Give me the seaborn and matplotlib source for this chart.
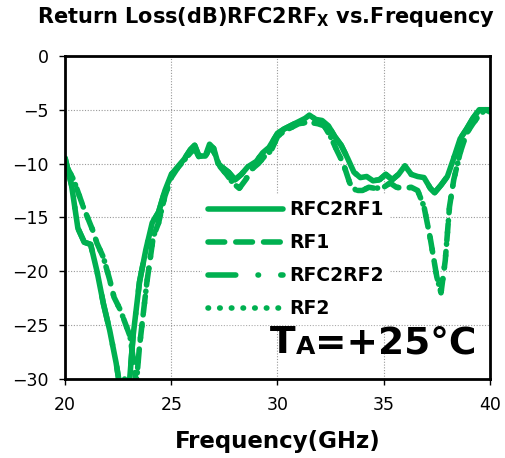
import numpy as np
import pandas as pd
import matplotlib
matplotlib.use("Agg")
import matplotlib.pyplot as plt
import seaborn as sns

freq_a = [20.0, 20.3, 20.6, 20.9, 21.2, 21.5, 21.8, 22.1, 22.4, 22.6, 22.8, 23.0, 23.2, 23.5, 23.8,
          24.1, 24.4, 24.7, 25.0, 25.3, 25.6, 25.9, 26.1, 26.3, 26.6, 26.8, 27.0, 27.2, 27.5, 27.7,
          28.0, 28.3, 28.6, 29.0, 29.3, 29.6, 30.0, 30.3, 30.6, 31.0, 31.3, 31.5, 31.8, 32.1, 32.4,
          32.7, 33.0, 33.3, 33.6, 33.9, 34.2, 34.5, 34.8, 35.1, 35.4, 35.7, 36.0, 36.3, 36.6, 36.9,
          37.2, 37.4, 37.7, 38.0, 38.3, 38.6, 38.9, 39.2, 39.5, 39.8, 40.0]
rfc2rf1 = [-9.5, -12, -16, -17.3, -17.5, -20, -23, -25.5, -28.5, -31, -30, -31, -26, -21, -18,
           -15.5, -14.5, -12.5, -11, -10.3, -9.6, -8.7, -8.3, -9.3, -9.3, -8.2, -8.6, -10, -10.5, -10.8,
           -11.5, -11, -10.3, -9.8, -9, -8.5, -7.2, -6.8, -6.5, -6.1, -5.8, -5.5, -5.9, -6, -6.5,
           -7.5, -8.3, -9.5, -10.8, -11.3, -11.2, -11.6, -11.5, -11, -11.5, -11, -10.2, -11, -11.2, -11.3,
           -12.3, -12.7, -12, -11.2, -9.5, -7.7, -6.8, -5.8, -5, -5, -5.2]

freq_b = [20.0, 20.4, 20.85, 21.3, 21.5, 21.8, 22.1, 22.3, 22.6, 22.9, 23.05, 23.2, 23.35, 23.5,
          23.85, 24.15, 24.4, 24.7, 25.0, 25.3, 25.6, 25.9, 26.1, 26.3, 26.6, 26.8, 27.0, 27.3, 27.6,
          27.9, 28.2, 28.5, 28.8, 29.1, 29.4, 29.7, 30.0, 30.3, 30.6, 31.0, 31.3, 31.6, 31.9, 32.2,
          32.5, 32.8, 33.1, 33.4, 33.7, 34.0, 34.3, 34.6, 35.0, 35.3, 35.6, 36.0, 36.3, 36.6, 36.9,
          37.2, 37.5, 37.7, 37.9, 38.1, 38.3, 38.6, 38.9, 39.2, 39.5, 39.8, 40.0]
rf1 = [-10, -11.5, -14, -16.2, -17.4, -18.7, -20.8, -22.4, -23.6, -25.2, -26, -28, -30.5, -27,
       -21, -16.8, -15.5, -13, -11.3, -10.4, -9.7, -9.0, -8.6, -9.4, -9.4, -8.5, -8.9, -10.3, -11,
       -11.8, -12.3, -11.5, -10.5, -10, -9.3, -8.8, -7.5, -7, -6.7, -6.3, -6.2, -6.2, -6.3, -6.5,
       -7.5, -8.8, -10, -11.8, -12.5, -12.5, -12.2, -12.3, -12.2, -11.8, -12.2, -12.3, -12.2, -12.5, -14,
       -17, -20.5, -22, -19, -14, -11.5, -9, -7.2, -6.3, -5.5, -5, -5]

rfc2rf2 = list(rfc2rf1)
rf2 = list(rf1)

series_names = ["RFC2RF1", "RF1", "RFC2RF2", "RF2"]
x_ticks = [20, 25, 30, 35, 40]
y_ticks = [0, -5, -10, -15, -20, -25, -30]

frames = []
for name, fr, vals in [("RFC2RF1", freq_a, rfc2rf1), ("RF1", freq_b, rf1),
                       ("RFC2RF2", freq_a, rfc2rf2), ("RF2", freq_b, rf2)]:
    frames.append(pd.DataFrame({"Frequency": fr, "RL": vals, "series": name}))
df = pd.concat(frames, ignore_index=True)

sns.set_style("white")
plt.rcParams["font.family"] = ["DejaVu Sans"]
plt.rcParams["text.color"] = "black"
plt.rcParams["axes.labelcolor"] = "black"

fig = plt.figure(figsize=(5.05, 4.58), dpi=100)
ax = fig.add_axes([0.129, 0.1725, 0.841, 0.7055])

green = "#00B050"
dashes = {"RFC2RF1": "", "RF1": (3, 2), "RFC2RF2": (5, 4, 0.1, 4), "RF2": (0.1, 2)}
sns.lineplot(data=df, x="Frequency", y="RL", hue="series", style="series",
             palette={n: green for n in series_names}, dashes=dashes, hue_order=series_names,
             style_order=series_names, linewidth=4, sort=False, estimator=None, ax=ax,
             dash_capstyle="round", solid_capstyle="round")

ax.set_xlim(20, 40)
ax.set_ylim(-30, 0)
ax.set_xticks(x_ticks)
ax.set_yticks(y_ticks)
ax.grid(True, color="#999999", linestyle=(0, (1, 1.5)), linewidth=0.8)
for s in ax.spines.values():
    s.set_color("black")
    s.set_linewidth(2)
ax.tick_params(axis="both", which="both", direction="out", length=4, width=1,
               labelsize=12.5, colors="black", bottom=True, left=True, pad=8)
ax.set_xlabel("Frequency(GHz)", fontsize=16.5, fontweight="bold", labelpad=12, color="black")
ax.set_ylabel("")
fig.text(0.527, 0.962, r"Return Loss(dB)RFC2RF$_\mathbf{X}$ vs.Frequency", fontsize=15,
         fontweight="bold", color="black", ha="center", va="center")

leg = ax.legend(loc="upper left", bbox_to_anchor=(0.30, 0.60), frameon=True,
                handlelength=4.0, prop={"weight": "bold", "size": 13.5},
                labelspacing=0.75, handletextpad=0.35, borderpad=0.3)
leg.get_frame().set_facecolor("white")
leg.get_frame().set_edgecolor("white")
leg.get_frame().set_alpha(1)
leg.set_zorder(5)
for line in leg.get_lines():
    line.set_linewidth(4)
    line.set_dash_capstyle("round")
    line.set_solid_capstyle("round")

t1 = ax.text(0.482, 0.055, "T", transform=ax.transAxes, ha="left", va="bottom",
             fontsize=27, fontweight="bold", color="black", zorder=10)
t2 = ax.annotate("A", xy=(1, 0), xycoords=t1, xytext=(0, 1.6), textcoords="offset points",
                 ha="left", va="bottom", fontsize=18, fontweight="bold", color="black", zorder=10)
t3 = ax.annotate("=+25°C", xy=(1, 0), xycoords=t2, xytext=(0, -1.6), textcoords="offset points",
                 ha="left", va="bottom", fontsize=27, fontweight="bold", color="black", zorder=10)

fig.savefig("out.png", dpi=100)
